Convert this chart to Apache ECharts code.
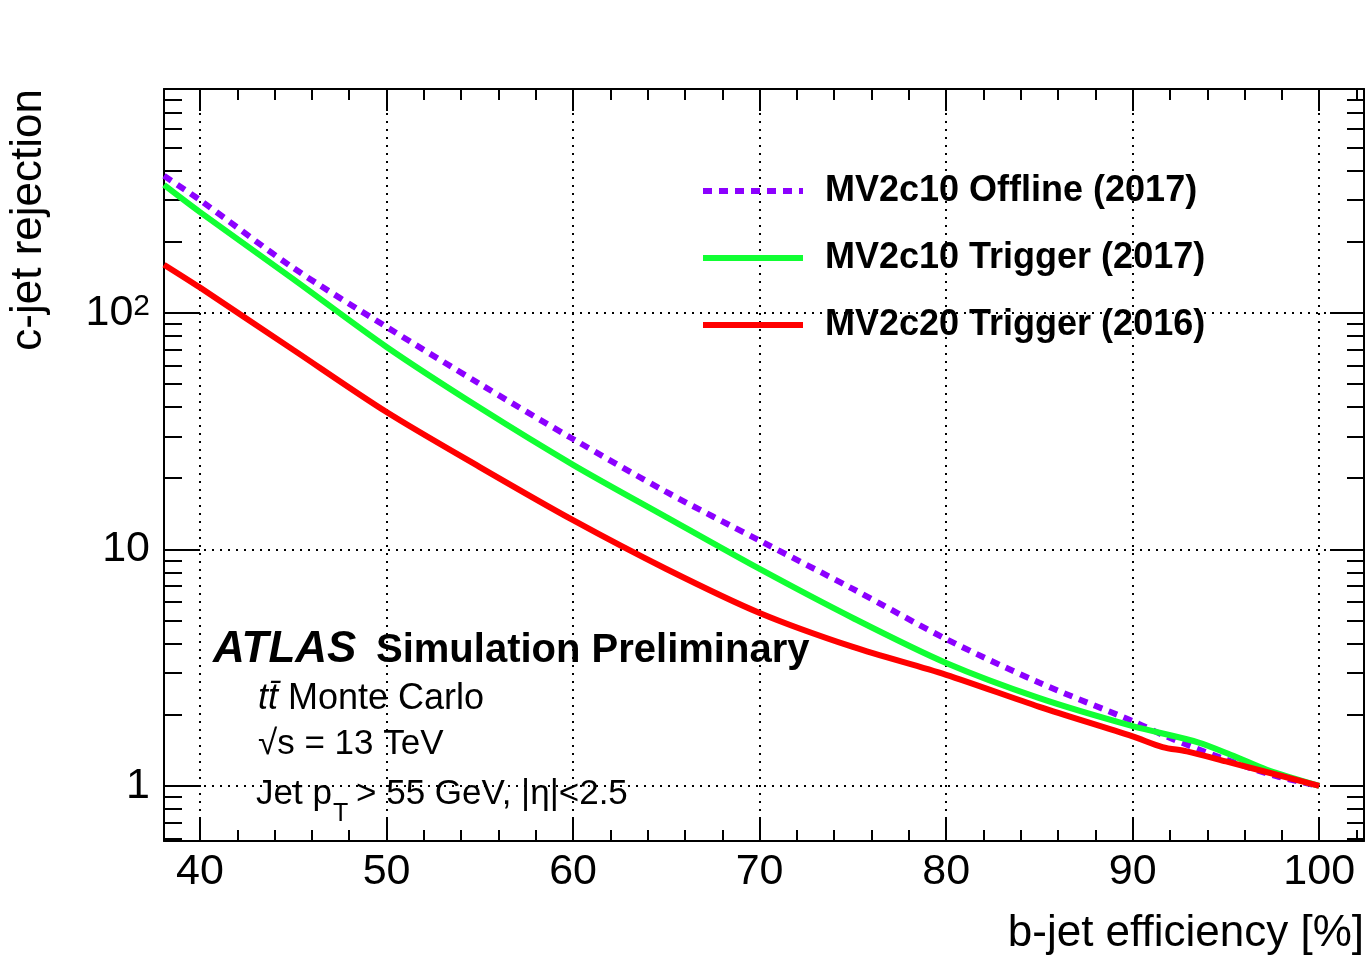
<!DOCTYPE html>
<html>
<head>
<meta charset="utf-8">
<script src="https://cdn.jsdelivr.net/npm/echarts@6/dist/echarts.min.js"></script>
<style>
  html, body { margin: 0; padding: 0; background: #fff; }
  #chart { width: 1367px; height: 971px; }
</style>
</head>
<body>
<div id="chart"></div>
<script>
// b-jet efficiency [%] and c-jet rejection
const effOffline2017 = [38.07, 40, 45, 50, 55, 60, 65, 70, 75, 80, 85, 90, 91.8, 94.8, 97.7, 100];
const rejOffline2017 = [380, 300, 155, 87.3, 50.1, 29.3, 17.5, 10.9, 6.81, 4.18, 2.73, 1.88, 1.62, 1.31, 1.10, 1.0];

const effTrigger2017 = [38.07, 40, 45, 50, 55, 60, 65, 70, 75, 80, 85, 90, 93.5, 95.4, 97.2, 100];
const rejTrigger2017 = [348, 267, 139, 71.8, 39.7, 22.8, 13.7, 8.27, 5.13, 3.31, 2.35, 1.79, 1.53, 1.34, 1.17, 1.0];

const effTrigger2016 = [38.07, 40, 45, 50, 55, 60, 65, 70, 75, 80, 85, 90, 91.6, 92.9, 95, 100];
const rejTrigger2016 = [160, 128, 69.8, 38.1, 22.3, 13.3, 8.27, 5.39, 3.87, 2.95, 2.16, 1.62, 1.46, 1.40, 1.27, 1.0];

const seriesNames = ['MV2c10 Offline (2017)', 'MV2c10 Trigger (2017)', 'MV2c20 Trigger (2016)'];

// axis ticks
const xMajor = [40, 50, 60, 70, 80, 90, 100];
const xMinor = [];
for (let v = 38; v <= 102; v += 2) if (v % 10 !== 0) xMinor.push(v);
const yDecades = [0, 1, 2]; // log10 of 1, 10, 100
const yTickLabels = ['1', '10', '10{sup|2}'];
const yMinor = [];
for (let d = -1; d <= 2; d++) for (let k = 2; k <= 9; k++) yMinor.push(d + Math.log10(k));

const X_MIN = 38.07, X_MAX = 102.4;
const Y_MIN = Math.log10(0.585), Y_MAX = Math.log10(885);
const FONT = '"Liberation Sans", Arial, Helvetica, sans-serif';

const pairs = (xs, ys) => xs.map((x, i) => [x, Math.log10(ys[i])]);

const black2 = { color: '#000', width: 2 };
function axisBase(extra) {
  return Object.assign({
    type: 'value',
    splitLine: { show: false },
    axisLabel: { show: false },
    axisLine: { show: false, onZero: false },
    axisTick: { show: false },
  }, extra);
}
function ticks(values, len) {
  return { show: true, inside: true, length: len, customValues: values, lineStyle: black2 };
}
const frameLine = { show: true, onZero: false, lineStyle: black2 };
const grid = { type: [2, 6], color: '#000', width: 2 };

const chart = echarts.init(document.getElementById('chart'));
const option = {
  animation: false,
  backgroundColor: '#fff',
  grid: { left: 164, top: 89, width: 1200, height: 752 },
  xAxis: [
    axisBase({
      position: 'bottom', min: X_MIN, max: X_MAX,
      axisLine: frameLine,
      axisTick: ticks(xMajor, 22),
      axisLabel: { show: true, customValues: xMajor, margin: 10, fontSize: 43, color: '#000', fontFamily: FONT },
      splitLine: { show: true, lineStyle: grid },
    }),
    axisBase({ position: 'bottom', min: X_MIN, max: X_MAX, axisTick: ticks(xMinor, 11) }),
    axisBase({ position: 'top', min: X_MIN, max: X_MAX, axisLine: frameLine, axisTick: ticks(xMajor, 22) }),
    axisBase({ position: 'top', min: X_MIN, max: X_MAX, axisTick: ticks(xMinor, 11) }),
  ],
  yAxis: [
    axisBase({
      position: 'left', min: Y_MIN, max: Y_MAX,
      axisLine: frameLine,
      axisTick: ticks(yDecades, 36),
      axisLabel: {
        show: true, customValues: yDecades, margin: 14, fontSize: 43, color: '#000', fontFamily: FONT,
        formatter: (v) => yTickLabels[Math.round(v)],
        rich: { sup: { fontSize: 30, verticalAlign: 'top', color: '#000', fontFamily: FONT } },
      },
      splitLine: { show: true, lineStyle: grid },
    }),
    axisBase({ position: 'left', min: Y_MIN, max: Y_MAX, axisTick: ticks(yMinor, 18) }),
    axisBase({ position: 'right', min: Y_MIN, max: Y_MAX, axisLine: frameLine, axisTick: ticks(yDecades, 34) }),
    axisBase({ position: 'right', min: Y_MIN, max: Y_MAX, axisTick: ticks(yMinor, 17) }),
  ],
  legend: {
    orient: 'vertical', left: 700, top: 173, padding: 0,
    itemWidth: 100, itemHeight: 36, itemGap: 31,
    data: seriesNames,
    itemStyle: { opacity: 0 },
    lineStyle: { width: 6 },
    textStyle: { fontFamily: FONT, fontSize: 36, fontWeight: 'bold', color: '#000', padding: [0, 0, 0, 17] },
  },
  series: [
    {
      name: seriesNames[0], type: 'line', symbol: 'none', smooth: 0.3, z: 3,
      data: pairs(effOffline2017, rejOffline2017),
      lineStyle: { color: '#8c00ff', width: 6, type: [9, 7], cap: 'butt' },
      itemStyle: { color: '#8c00ff' },
    },
    {
      name: seriesNames[1], type: 'line', symbol: 'none', smooth: 0.3, z: 4,
      data: pairs(effTrigger2017, rejTrigger2017),
      lineStyle: { color: '#11ff33', width: 6 },
      itemStyle: { color: '#11ff33' },
    },
    {
      name: seriesNames[2], type: 'line', symbol: 'none', smooth: 0.3, z: 5,
      data: pairs(effTrigger2016, rejTrigger2016),
      lineStyle: { color: '#ff0000', width: 6 },
      itemStyle: { color: '#ff0000' },
    },
  ],
  graphic: [
    { type: 'text', x: 29, y: 89, rotation: Math.PI / 2,
      style: { text: 'c-jet rejection', fontSize: 44, fontFamily: FONT, fill: '#000', align: 'right', verticalAlign: 'middle' } },
    { type: 'text', x: 1364, y: 934,
      style: { text: 'b-jet efficiency [%]', fontSize: 44, fontFamily: FONT, fill: '#000', align: 'right', verticalAlign: 'middle' } },
    { type: 'text', x: 213, y: 650,
      style: { text: 'ATLAS', fontSize: 44, fontFamily: FONT, fontWeight: 'bold', fontStyle: 'italic', fill: '#000', verticalAlign: 'middle' } },
    { type: 'text', x: 376, y: 651,
      style: { text: 'Simulation Preliminary', fontSize: 40, fontFamily: FONT, fontWeight: 'bold', fill: '#000', verticalAlign: 'middle' } },
    { type: 'text', x: 258, y: 699,
      style: { text: '{i|tt\u0304} Monte Carlo', fontSize: 36, fontFamily: FONT, fill: '#000', verticalAlign: 'middle',
        rich: { i: { fontSize: 36, fontFamily: FONT, fontStyle: 'italic', fill: '#000' } } } },
    { type: 'text', x: 258, y: 744,
      style: { text: '\u221As = 13 TeV', fontSize: 35, fontFamily: FONT, fill: '#000', verticalAlign: 'middle' } },
    { type: 'text', x: 256, y: 794,
      style: { text: 'Jet p', fontSize: 35, fontFamily: FONT, fill: '#000', verticalAlign: 'middle' } },
    { type: 'text', x: 333, y: 814,
      style: { text: 'T', fontSize: 25, fontFamily: FONT, fill: '#000', verticalAlign: 'middle' } },
    { type: 'text', x: 356, y: 794,
      style: { text: '> 55 GeV, |\u03b7|<2.5', fontSize: 35, fontFamily: FONT, fill: '#000', verticalAlign: 'middle' } },
  ],
};
chart.setOption(option);
</script>
</body>
</html>
